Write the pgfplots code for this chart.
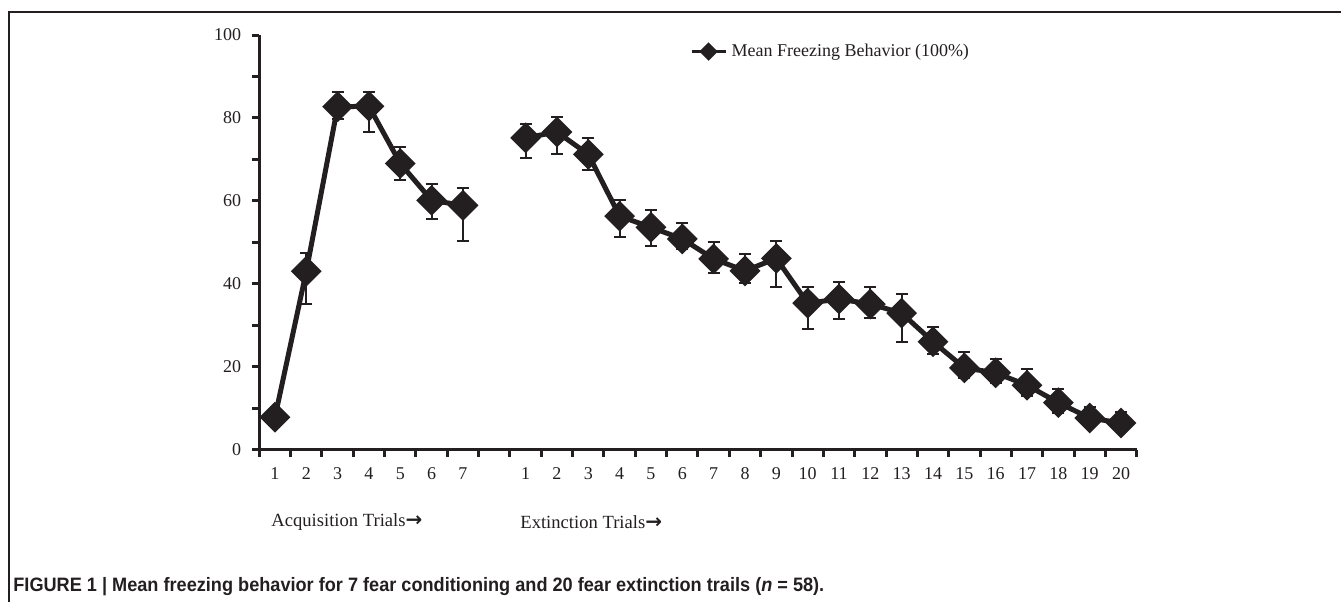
\documentclass[border=0pt]{standalone}
\usepackage{pgfplots}
\pgfplotsset{compat=1.18}
\usepackage{fontspec}
\setmainfont{Liberation Serif}
\newfontfamily\capfont[FakeStretch=0.935]{Liberation Sans}
\newfontfamily\arrowfont{DejaVu Sans}
\definecolor{ink}{HTML}{231F20}
\begin{document}
\begin{tikzpicture}
\useasboundingbox (0,0) rectangle (670.5pt,301pt);
\draw[line width=1pt, ink] (4.25pt,0pt) -- (4.25pt,295pt) -- (670.5pt,295pt);
\begin{axis}[
  at={(129.65pt,76.25pt)}, anchor=south west,
  scale only axis, width=438.7pt, height=207.25pt,
  xmin=0.5, xmax=28.5, ymin=0, ymax=100,
  axis lines*=left,
  axis line style={line width=1.5pt, ink},
  xtick={1,2,3,4,5,6,7,9,10,11,12,13,14,15,16,17,18,19,20,21,22,23,24,25,26,27,28},
  xticklabels={1,2,3,4,5,6,7,1,2,3,4,5,6,7,8,9,10,11,12,13,14,15,16,17,18,19,20},
  major x tick style={draw=none},
  minor xtick={0.5,1.5,...,28.5},
  ytick={0,20,40,60,80,100},
  minor ytick={10,30,50,70,90},
  tick align=outside,
  major tick length=3.5pt, minor tick length=3.5pt,
  tick style={line width=1.5pt, ink},
  ticklabel style={font=\fontsize{9}{10}\selectfont, text=ink},
  /pgf/number format/assume math mode=true,
  xticklabel style={yshift=-2pt},
  yticklabel style={xshift=-2pt},
  legend style={at={(0.49,0.96)}, anchor=west, draw=none, fill=none, inner sep=0pt,
    font=\fontsize{9}{10}\selectfont, text=ink},
  legend cell align=left,
  legend image code/.code={\draw[#1, mark size=2.3pt, line width=1.9pt, mark repeat=2, mark phase=2] plot coordinates {(0cm,0cm) (0.3cm,0cm) (0.6cm,0cm)};},
  clip=false,
]
\addplot[ink, line width=2.5pt, mark=square*, mark size=4.2pt, mark options={rotate=45, solid, fill=ink},
  error bars/.cd, y dir=both, y explicit,
  error bar style={line width=1pt, ink},
  error mark options={rotate=90, line width=1pt, mark size=3pt, ink}]
coordinates {
(1,7.8) += (0,2) -= (0,2.2)
(2,43.0) += (0,4.4) -= (0,7.9)
(3,82.7) += (0,3.6) -= (0,2.9)
(4,82.8) += (0,3.5) -= (0,6.3)
(5,69.0) += (0,4.0) -= (0,4.0)
(6,60.1) += (0,4.0) -= (0,4.6)
(7,58.9) += (0,4.2) -= (0,8.5)
};
\addlegendentry{Mean Freezing Behavior (100\%)}
\addplot[ink, line width=2.5pt, mark=square*, mark size=4.2pt, mark options={rotate=45, solid, fill=ink}, forget plot,
  error bars/.cd, y dir=both, y explicit,
  error bar style={line width=1pt, ink},
  error mark options={rotate=90, line width=1pt, mark size=3pt, ink}]
coordinates {
(9,75.2) += (0,3.3) -= (0,4.9)
(10,76.6) += (0,3.6) -= (0,5.2)
(11,71.2) += (0,4.0) -= (0,3.7)
(12,56.3) += (0,3.9) -= (0,5.1)
(13,53.6) += (0,4.1) -= (0,4.4)
(14,50.8) += (0,3.8) -= (0,2.4)
(15,46.0) += (0,4.0) -= (0,3.4)
(16,43.1) += (0,4.1) -= (0,3.0)
(17,46.1) += (0,4.3) -= (0,7.0)
(18,35.3) += (0,3.8) -= (0,6.3)
(19,36.3) += (0,4.2) -= (0,4.8)
(20,35.1) += (0,4.2) -= (0,3.3)
(21,32.9) += (0,4.6) -= (0,6.9)
(22,26.0) += (0,3.6) -= (0,3.0)
(23,19.7) += (0,3.8) -= (0,2.5)
(24,18.5) += (0,3.4) -= (0,2.5)
(25,15.5) += (0,3.9) -= (0,2.5)
(26,11.3) += (0,3.4) -= (0,2.5)
(27,7.6) += (0,2.6) -= (0,2.0)
(28,6.4) += (0,2.6) -= (0,2.0)
};
\end{axis}
\node[anchor=west, inner sep=0pt, text=ink, font=\fontsize{9.3}{10}\selectfont] at (135.5pt,40pt) {Acquisition Trials{\arrowfont\bfseries\fontsize{10}{10}\selectfont →}};
\node[anchor=west, inner sep=0pt, text=ink, font=\fontsize{9.3}{10}\selectfont] at (260pt,40pt) {Extinction Trials{\arrowfont\bfseries\fontsize{10}{10}\selectfont →}};
\node[anchor=base west, inner sep=0pt, text=ink] at (6.5pt,5.5pt) {\capfont\bfseries\fontsize{9.7}{10}\selectfont FIGURE 1 | Mean freezing behavior for 7 fear conditioning and 20 fear extinction trails (\textit{n} = 58).};
\end{tikzpicture}
\end{document}
